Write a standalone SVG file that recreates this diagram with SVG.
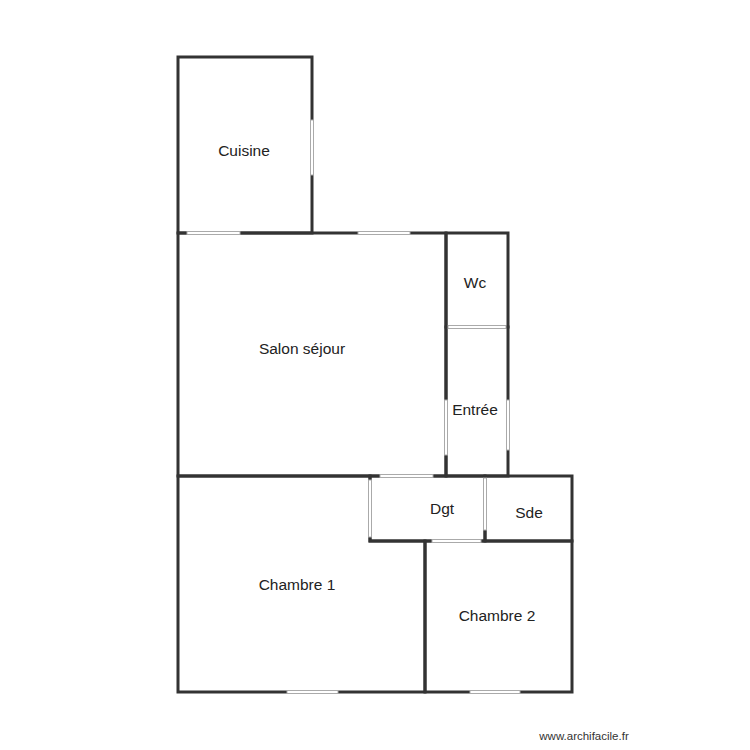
<svg xmlns="http://www.w3.org/2000/svg" width="750" height="750" viewBox="0 0 750 750">
<style>
.w{fill:none;stroke:#333;stroke-width:3;stroke-linecap:square}
.o{fill:#fff;stroke:#aaa;stroke-width:1}
text{font-family:"Liberation Sans",Arial,sans-serif;font-size:15.5px;fill:#222;text-anchor:middle}
.c{font-size:11.5px;fill:#333}
</style>
<rect width="750" height="750" fill="#fff"/>
<g id="walls">
<rect id="cuisine-r" class="w" x="178" y="57" width="134" height="176"/>
<rect id="salon-r" class="w" x="178" y="233" width="268" height="243"/>
<rect id="wc-r" class="w" x="446" y="233" width="62" height="94"/>
<rect id="entree-r" class="w" x="446" y="327" width="62" height="149"/>
<rect id="dgt-r" class="w" x="370" y="476" width="115" height="65"/>
<rect id="sde-r" class="w" x="485" y="476" width="87" height="65"/>
<polygon id="ch1-r" class="w" points="178,476 370,476 370,541 425,541 425,692 178,692"/>
<rect id="ch2-r" class="w" x="425" y="541" width="147" height="151"/>
</g>
<g id="openings">
<rect class="o" x="310.5" y="120" width="3" height="55"/>
<rect class="o" x="187" y="231.5" width="53" height="3"/>
<rect class="o" x="358" y="231.5" width="52" height="3"/>
<rect class="o" x="448" y="325.5" width="58" height="3"/>
<rect class="o" x="444.5" y="400" width="3" height="55"/>
<rect class="o" x="506.5" y="400" width="3" height="50"/>
<rect class="o" x="380" y="474.5" width="53" height="3"/>
<rect class="o" x="368.5" y="480" width="3" height="57"/>
<rect class="o" x="483.5" y="478" width="3" height="52"/>
<rect class="o" x="432" y="539.5" width="49" height="3"/>
<rect class="o" x="287" y="690.5" width="51" height="3"/>
<rect class="o" x="470" y="690.5" width="50" height="3"/>
</g>
<g id="cuisine"><text x="244" y="156">Cuisine</text></g>
<g id="salon"><text x="302" y="354">Salon séjour</text></g>
<g id="wc"><text x="475" y="288">Wc</text></g>
<g id="entree"><text x="475" y="415">Entrée</text></g>
<g id="dgt"><text x="442" y="514">Dgt</text></g>
<g id="sde"><text x="529" y="518">Sde</text></g>
<g id="chambre1"><text x="297" y="590">Chambre 1</text></g>
<g id="chambre2"><text x="497" y="621">Chambre 2</text></g>
<text class="c" x="584" y="740">www.archifacile.fr</text>
</svg>
